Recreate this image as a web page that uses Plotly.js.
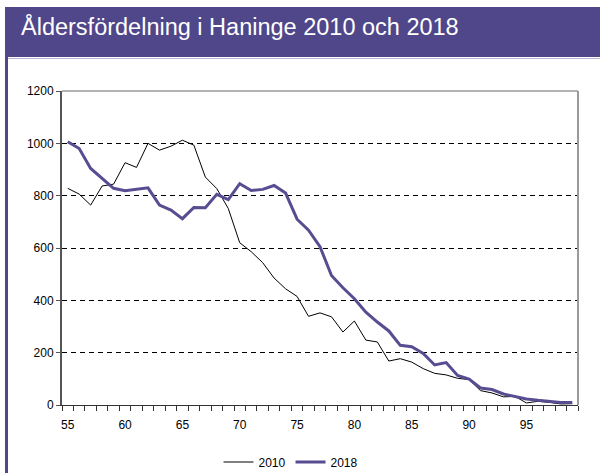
<!DOCTYPE html>
<html>
<head>
<meta charset="utf-8">
<script src="https://cdn.plot.ly/plotly-3.0.1.min.js"></script>
<style>
html,body{margin:0;padding:0;background:#fff;}
#chart{width:600px;height:473px;}
</style>
</head>
<body>
<div id="chart"></div>
<script>
const ages = [55,56,57,58,59,60,61,62,63,64,65,66,67,68,69,70,71,72,73,74,75,76,77,78,79,80,81,82,83,84,85,86,87,88,89,90,91,92,93,94,95,96,97,98,99];
const values2010 = [828,806,764,837,844,926,908,1000,974,989,1012,993,871,827,751,620,586,544,485,444,415,339,352,337,279,321,248,241,168,177,164,139,121,115,102,97,55,46,31,33,8,14,10,4,5];
const values2018 = [1006,980,904,866,828,819,825,830,764,745,712,755,754,805,785,846,820,824,839,810,710,668,605,495,448,406,355,317,283,228,223,197,153,162,113,99,65,59,42,33,23,18,14,10,10];
const seriesNames = ["2010","2018"];
const xTickVals = [55,60,65,70,75,80,85,90,95];
const xTickText = ["55","60","65","70","75","80","85","90","95"];
const yTickVals = [0,200,400,600,800,1000,1200];
const yTickText = ["0","200","400","600","800","1000","1200"];
const titleText = "Åldersfördelning i Haninge 2010 och 2018";

const PURPLE = "#50468a";
const L = 62, R = 22, T = 91, B = 68, W = 600, H = 473;
const pw = W - L - R, ph = H - T - B;
const px = x => (x - L) / pw;
const py = y => (H - B - y) / ph;

const traces = [
  {x: ages, y: values2010, name: seriesNames[0], type: "scatter", mode: "lines",
   line: {color: "#000000", width: 1}},
  {x: ages, y: values2018, name: seriesNames[1], type: "scatter", mode: "lines",
   line: {color: "#574d91", width: 3}}
];

const layout = {
  width: W, height: H,
  margin: {l: L, r: R, t: T, b: B, autoexpand: false},
  paper_bgcolor: "#ffffff", plot_bgcolor: "#ffffff",
  font: {family: "Liberation Sans, Arial, sans-serif", size: 12, color: "#000"},
  title: {text: titleText, xref: "container", yref: "container", x: 21/W, xanchor: "left",
          y: 1 - 27/H, yanchor: "middle",
          font: {family: "Liberation Sans, Arial, sans-serif", size: 23.5, color: "#ffffff"}},
  showlegend: true,
  legend: {orientation: "h", x: px(291), xanchor: "center", y: py(462), yanchor: "middle",
           font: {size: 12, color: "#000"}, bgcolor: "rgba(0,0,0,0)", tracegroupgap: 0, itemwidth: 30},
  xaxis: {range: [54.5, 99.5], tickvals: xTickVals, ticktext: xTickText,
          ticks: "outside", ticklen: 9, tickcolor: "rgba(0,0,0,0)",
          minor: {tick0: 54.5, dtick: 1, ticks: "outside", ticklen: 5, tickcolor: "#333", tickwidth: 1, showgrid: false},
          showgrid: false, zeroline: false, showline: true, linecolor: "#333", linewidth: 1,
          tickfont: {size: 12, color: "#000"}, fixedrange: true},
  yaxis: {range: [0, 1200], tickvals: yTickVals, ticktext: yTickText,
          ticks: "outside", ticklen: 4, tickcolor: "#555", tickwidth: 1,
          showgrid: true, gridcolor: "#000", gridwidth: 1, griddash: "5px,4px",
          zeroline: false, showline: true, linecolor: "#555", linewidth: 2,
          tickfont: {size: 12, color: "#000"}, fixedrange: true},
  shapes: [
    {type: "rect", xref: "paper", yref: "paper", x0: px(5), x1: px(600), y0: py(57), y1: py(7),
     fillcolor: PURPLE, line: {width: 0}, layer: "below"},
    {type: "rect", xref: "paper", yref: "paper", x0: px(5), x1: px(8), y0: py(473), y1: py(57),
     fillcolor: PURPLE, line: {width: 0}, layer: "below"},
    {type: "line", xref: "paper", yref: "paper", x0: px(8), x1: px(600), y0: py(58.5), y1: py(58.5),
     line: {color: "#b9b4d3", width: 1}, layer: "below"},
    {type: "line", xref: "paper", yref: "paper", x0: 0, x1: 1, y0: 1, y1: 1,
     line: {color: "#9a9a9a", width: 1.5}, layer: "above"},
    {type: "line", xref: "paper", yref: "paper", x0: 1, x1: 1, y0: 0, y1: 1,
     line: {color: "#9a9a9a", width: 2}, layer: "above"}
  ]
};

Plotly.newPlot("chart", traces, layout, {displayModeBar: false, staticPlot: true});
</script>
</body>
</html>
